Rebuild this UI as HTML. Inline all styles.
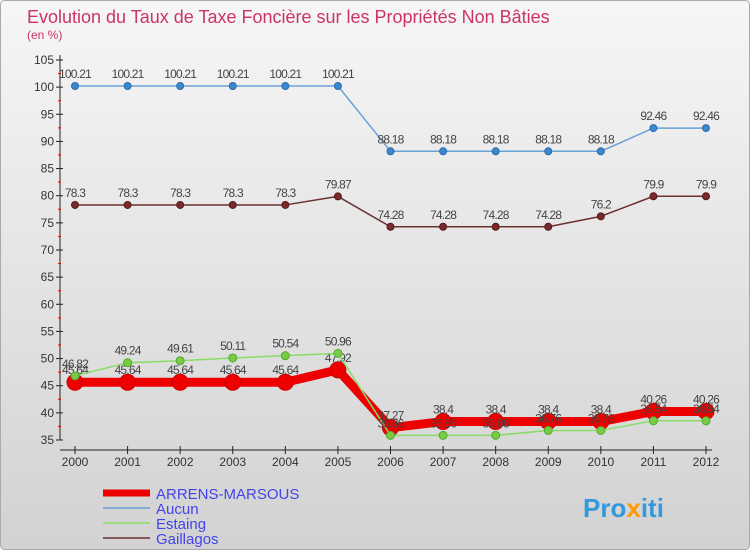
<!DOCTYPE html>
<html><head><meta charset="utf-8"><style>
body{margin:0;width:750px;height:550px;overflow:hidden;font-family:"Liberation Sans",sans-serif}
svg{display:block}
</style></head><body>
<svg id="c" width="750" height="550" xmlns="http://www.w3.org/2000/svg">
<defs><linearGradient id="bg" x1="0" y1="0" x2="0" y2="1"><stop offset="0" stop-color="#f6f6f6"/><stop offset="1" stop-color="#d2d2d2"/></linearGradient></defs>
<rect x="0.5" y="0.5" width="749" height="549" rx="4" fill="url(#bg)" stroke="#aaa"/>
<text x="27" y="23" font-size="18" fill="#cc3366">Evolution du Taux de Taxe Foncière sur les Propriétés Non Bâties</text>
<text x="27" y="39" font-size="12" fill="#cc3366">(en %)</text>
<g id="axes"></g><g id="series"></g>
<g>
<line x1="103" y1="493" x2="150" y2="493" stroke="#e00" stroke-width="7"/>
<text x="156" y="499" font-size="15" fill="#4444ee">ARRENS-MARSOUS</text>
<line x1="103" y1="508" x2="150" y2="508" stroke="#6aa0d8" stroke-width="1.5"/>
<text x="156" y="514" font-size="15" fill="#4444ee">Aucun</text>
<line x1="103" y1="523" x2="150" y2="523" stroke="#88dd66" stroke-width="1.5"/>
<text x="156" y="529" font-size="15" fill="#4444ee">Estaing</text>
<line x1="103" y1="538" x2="150" y2="538" stroke="#6b3030" stroke-width="1.5"/>
<text x="156" y="544" font-size="15" fill="#4444ee">Gaillagos</text>
</g>
<text x="583" y="517" font-size="26" font-weight="bold" fill="#3399dd">Pro<tspan fill="#ff9900">x</tspan>iti</text>
</svg>
<script>
const years=[2000,2001,2002,2003,2004,2005,2006,2007,2008,2009,2010,2011,2012];
const yTicks=[35,40,45,50,55,60,65,70,75,80,85,90,95,100,105];
const arrens=[45.64,45.64,45.64,45.64,45.64,47.92,37.27,38.4,38.4,38.4,38.4,40.26,40.26];
const aucun=[100.21,100.21,100.21,100.21,100.21,100.21,88.18,88.18,88.18,88.18,88.18,92.46,92.46];
const estaing=[46.82,49.24,49.61,50.11,50.54,50.96,35.86,35.86,35.86,36.76,36.76,38.54,38.54];
const gaillagos=[78.3,78.3,78.3,78.3,78.3,79.87,74.28,74.28,74.28,74.28,76.2,79.9,79.9];
const NS="http://www.w3.org/2000/svg";
const X=i=>75+i*(706-75)/12;
const Y=v=>440-(v-35)*(380/70);
function mk(t,a,p){const e=document.createElementNS(NS,t);for(const k in a)e.setAttribute(k,a[k]);p.appendChild(e);return e;}
const ax=document.getElementById('axes');
const yl=mk('line',{x1:60,y1:55,x2:60,y2:440,stroke:'#222'},ax);


const xl=mk('line',{x1:60,y1:450,x2:712,y2:450,stroke:'#222'},ax);


yTicks.forEach(v=>{
 const y=Y(v);
 mk('line',{x1:56,y1:y,x2:63,y2:y,stroke:'#222'},ax);
 if(v<105) mk('line',{x1:58,y1:y-y+Y(v+2.5),x2:61,y2:Y(v+2.5),stroke:'#e00'},ax);
 const t=mk('text',{x:54,y:y+4,'font-size':12,fill:'#333','text-anchor':'end'},ax);t.textContent=v;
 
 
});
years.forEach((yr,i)=>{
 const x=X(i);
 mk('line',{x1:x,y1:446,x2:x,y2:454,stroke:'#222'},ax);
 const t=mk('text',{x:x,y:466,'font-size':12,fill:'#333','text-anchor':'middle'},ax);t.textContent=yr;
 
 
});
const sg=document.getElementById('series');
function series(vals,name,color,w,r,dot,dotStroke){
 const g=mk('g',{},sg);
 
 
 mk('polyline',{points:vals.map((v,i)=>X(i)+','+Y(v)).join(' '),fill:'none',stroke:color,'stroke-width':w,'stroke-linejoin':'round'},g);
 vals.forEach((v,i)=>{
  const c=mk('circle',{cx:X(i),cy:Y(v),r:r,fill:dot,stroke:dotStroke,'stroke-width':1},g);
  
  
  const t=mk('text',{x:X(i),y:Y(v)-8,'font-size':12,fill:'#444','text-anchor':'middle','letter-spacing':'-0.8'},g);
  t.textContent=v;
  
  
 });
}
series(aucun,'aucun','#6aa0d8',1.5,3.5,'#3a88d0','#2a6aa8');
series(gaillagos,'gaillagos','#6b3030',1.5,3.5,'#7a2a2a','#551818');
series(arrens,'arrens','#ee0000',9,8,'#ee0000','#cc0000');
series(estaing,'estaing','#88dd66',1.5,4,'#77cc44','#55aa33');
</script>
</body></html>
